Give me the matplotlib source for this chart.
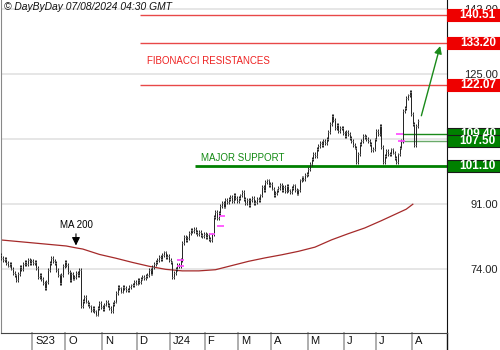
import numpy as np
import pandas as pd
import matplotlib
matplotlib.use('Agg')
import matplotlib.pyplot as plt
from matplotlib.transforms import blended_transform_factory
from matplotlib.patches import Rectangle

plt.rcParams['font.family'] = ['Liberation Sans', 'DejaVu Sans']

# -----------------------------------
# Daily closes, Aug 2023 -> Aug 2024

closes = [
    # Aug 23
    77.8, 77.0, 76.4, 76.6, 75.6, 75.0, 75.3, 74.2, 73.1, 72.4,
    71.3, 72.8, 74.6, 74.1, 75.3, 76.0, 75.4, 76.5, 75.7, 76.2,
    # Sep
    75.6, 75.9, 74.3, 72.0, 72.6, 71.4, 70.5, 69.2, 70.8, 73.9,
    75.7, 77.0, 76.1, 75.7, 73.8, 72.4, 70.5, 72.6, 74.8, 76.0,
    # Oct
    75.2, 73.4, 71.3, 72.8, 71.6, 72.0, 73.0, 72.4, 73.9, 64.3,
    65.8, 66.9, 65.6, 64.9, 64.3, 63.4, 64.0, 63.0, 62.2, 63.8,
    65.3, 64.2,
    # Nov
    63.6, 64.8, 65.5, 64.6, 64.0, 63.2, 64.9, 65.6, 67.8, 69.5,
    69.0, 68.2, 69.5, 69.2, 68.5, 68.7, 69.4, 69.8, 70.0, 70.6,
    70.3,
    # Dec
    71.3, 70.8, 71.6, 72.0, 71.7, 72.3, 72.6, 73.8, 72.9, 74.6,
    75.4, 75.9, 76.5, 77.2, 76.7, 77.8, 78.4, 77.2, 77.6, 76.5,
    # Jan 24
    75.8, 72.0, 73.1, 74.0, 75.2, 74.8, 76.5, 80.8, 82.4, 81.6,
    82.2, 83.4, 84.3, 83.9, 84.6, 83.7, 83.1, 83.8, 83.0, 82.6,
    83.3,
    # Feb
    82.4, 82.9, 82.0, 81.7, 83.1, 87.6, 88.9, 87.4, 88.7, 90.6,
    91.3, 90.4, 92.0, 91.5, 92.3, 92.8, 91.9, 93.4, 92.6, 91.8,
    # Mar
    92.7, 93.3, 94.1, 92.4, 91.3, 92.2, 90.9, 92.0, 92.7, 91.4,
    91.6, 92.4, 92.0, 93.3, 95.4, 94.8, 96.7, 97.2, 95.9, 96.4,
    # Apr
    95.1, 93.3, 94.0, 94.6, 95.2, 96.0, 94.8, 95.4, 94.5, 95.7,
    94.6, 94.1, 95.2, 95.9, 94.8, 93.8, 94.6, 97.2, 98.0, 97.6,
    98.6, 99.0,
    # May
    100.2, 101.6, 102.8, 104.2, 103.6, 105.5, 106.2, 107.1, 106.5, 107.6,
    107.0, 108.1, 109.9, 112.0, 114.1, 113.0, 111.0, 111.8, 110.2, 110.9,
    111.0, 109.6,
    # Jun
    108.9, 109.8, 109.4, 108.2, 107.6, 106.5, 105.8, 101.9, 104.1, 106.8,
    107.6, 108.9, 108.5, 108.1, 107.4, 106.8, 105.1, 105.5, 107.9,
    # Jul
    110.2, 109.4, 111.5, 106.0, 101.9, 103.6, 105.0, 104.0, 104.2, 105.3,
    104.5, 103.0, 101.9, 104.0, 105.8, 107.4, 115.4, 116.2, 118.8, 119.4,
    120.2, 114.6,
    # Aug
    112.0, 106.5, 111.4, 112.8,
]

holidays = ['2023-09-04', '2023-11-23', '2023-12-25', '2024-01-01', '2024-01-15',
            '2024-02-19', '2024-03-29', '2024-05-27', '2024-06-19', '2024-07-04']

# 200 day moving average, sampled by bar number
ma_bars = [0, 10, 20, 30, 40, 46, 50, 60, 70, 80, 90, 100, 110, 120, 130, 140,
           150, 160, 170, 180, 190, 200, 210, 220, 230, 240, 245, 249]
ma_vals = [81.7, 81.3, 80.9, 80.5, 80.1, 79.6, 79.3, 77.9, 76.9, 75.8, 74.8, 74.0,
           73.6, 73.6, 73.9, 75.0, 76.1, 77.0, 77.8, 78.7, 79.8, 81.7, 83.3, 84.8,
           86.7, 88.7, 89.7, 91.0]

# gap markers (bar, level)
gap_bars = [107, 107, 126, 131, 132, 239, 240]
gap_levels = [74.9, 76.4, 83.2, 85.3, 87.9, 109.4, 107.5]

resistances = [140.51, 133.20, 122.07]
supports = [109.40, 107.50, 101.10]
y_ticks = [74, 91, 108, 125, 142]

# -----------------------------------

closes = np.array(closes)
n = len(closes)
idx = np.arange(n)
dates = pd.bdate_range('2023-07-01', '2024-08-06', freq='C', holidays=holidays)[-n:]

opens = np.r_[closes[0], closes[:-1]]
highs = np.maximum(opens, closes) + 0.5
lows = np.minimum(opens, closes) - 0.5

W, H = 500, 350
fig = plt.figure(figsize=(W / 100, H / 100), dpi=100)
ax = fig.add_axes([1 / W, 17 / H, 446 / W, 333 / H])
ax.set_xlim(0.7, 269.6)
ax.set_ylim(57.38, 144.32)

# grid + right price scale (108 sits under the support boxes)
ax.yaxis.tick_right()
ax.set_yticks(y_ticks)
ax.set_yticklabels(['' if t == 108 else '%.2f' % t for t in y_ticks])
ax.tick_params(axis='y', length=0, pad=36.5, labelsize=8, colors='#222222')
for lab in ax.get_yticklabels():
    lab.set_horizontalalignment('right')
ax.set_xticks([])
ax.grid(axis='y', color='#e2e2e2', lw=1.2)
ax.set_axisbelow(True)

ax.spines['top'].set_visible(False)
ax.spines['left'].set_color('#888888')
ax.spines['bottom'].set_color('#444444')
ax.spines['right'].set_color('#111111')
ax.plot([1, 1], [-17 / 333, 0], transform=ax.transAxes, color='#111111', lw=1, clip_on=False)

# bars
ax.vlines(idx, lows, highs, color='#222222', lw=0.7, zorder=3)
ax.hlines(opens, idx - 0.6, idx, color='#999999', lw=0.6, zorder=3)
ax.hlines(closes, idx, idx + 0.6, color='#999999', lw=0.6, zorder=3)

# moving average
ax.plot(ma_bars, ma_vals, color='#a52a2a', lw=0.9, zorder=2)
ax.annotate('', xy=(45.9, 79.5), xytext=(45.9, 84.0),
            arrowprops=dict(arrowstyle='-|>', color='black', lw=0.8, mutation_scale=12))
ax.text(45.9, 85.7, 'MA 200', ha='center', va='center', fontsize=7)

# gap markers
for b, lv in zip(gap_bars, gap_levels):
    ax.hlines(lv, b, b + 4, color='#ff44ff', lw=1.2, zorder=4)

# resistance and support lines
for lv in resistances:
    ax.hlines(lv, 84.5, 270, color='#e84848', lw=1.0, zorder=2)
ax.text(88.7, 128.4, 'FIBONACCI RESISTANCES', color='#ee2222', fontsize=7, va='center')

ax.hlines(supports[0], 243, 270, color='#1a8a1a', lw=1.0, zorder=2)
ax.hlines(supports[1], 241, 270, color='#6aaa6a', lw=1.0, zorder=2)
ax.hlines(supports[2], 117.7, 270, color='#008000', lw=2.0, zorder=2)
ax.text(121.3, 103.1, 'MAJOR SUPPORT', color='#138a13', fontsize=7, va='center')

ax.annotate('', xy=(265.9, 133.0), xytext=(253.7, 113.4),
            arrowprops=dict(arrowstyle='-|>', color='#1a8a1a', lw=1.0, mutation_scale=11))

# price boxes on the right scale
tr = blended_transform_factory(fig.transFigure, ax.transData)
box_h = 12 / 3.83
levels = [(v, '#ee0000', '#ee0000') for v in resistances] + \
         [(v, '#008000', '#1a1a1a') for v in supports]
for k, (v, fc, ec) in enumerate(levels):
    z = 10 + 2 * k
    ax.add_patch(Rectangle((447 / W, v - box_h / 2), 53 / W, box_h, transform=tr,
                           facecolor=fc, edgecolor=ec, lw=0.8, clip_on=False, zorder=z))
    ax.text(496 / W, v, '%.2f' % v, transform=tr, ha='right', va='center',
            color='white', fontweight='bold', fontsize=8.5, clip_on=False, zorder=z + 1)

# month strip
trx = blended_transform_factory(ax.transData, ax.transAxes)
letters = 'JFMAMJJASOND'
first = True
for i in range(1, n):
    if dates[i].month != dates[i - 1].month:
        lab = letters[dates[i].month - 1]
        if first or dates[i].month == 1:
            lab += dates[i].strftime('%y')
            first = False
        ax.plot([i - 0.5, i - 0.5], [-17 / 333, 0], transform=trx, color='#a8a8a8',
                lw=1.3, clip_on=False)
        ax.text(i + 1.2, -8.5 / 333, lab, transform=trx, fontsize=8, va='center',
                color='#111111', clip_on=False)

fig.text(4 / W, 1 - 7 / H, '\u00a9 DayByDay 07/08/2024 04:30 GMT', fontsize=7.4,
         style='italic', va='center', color='#111111')

fig.savefig('out.png', dpi=100)
